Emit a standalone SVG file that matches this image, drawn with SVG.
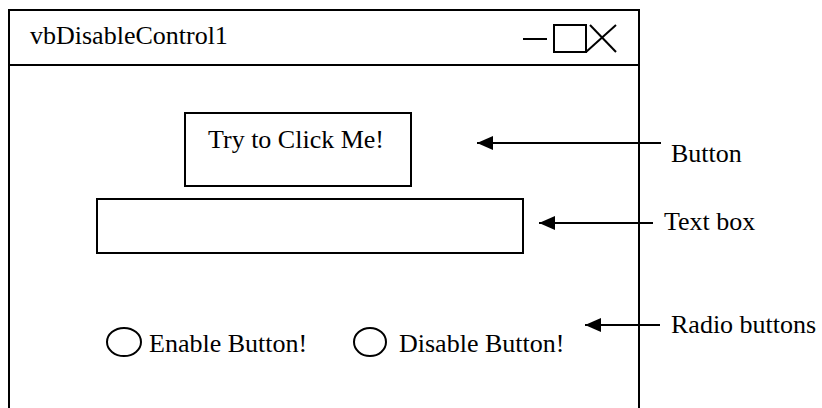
<svg xmlns="http://www.w3.org/2000/svg" width="822" height="408" viewBox="0 0 822 408">
  <style>
    .frame { fill: none; stroke: #000; stroke-width: 2; }
    .box { fill: #fff; stroke: #000; stroke-width: 2; }
    .txt { font-family: "Liberation Serif", "Times New Roman", serif; font-size: 26px; fill: #000; }
    .conn { fill: none; stroke: #000; stroke-width: 2; }
  </style>
  <defs>
    <marker id="arrow" markerUnits="userSpaceOnUse" markerWidth="16" markerHeight="14" refX="16" refY="7" orient="auto">
      <path d="M0,0 L16,7 L0,14 Z" fill="#000"/>
    </marker>
  </defs>
  <rect width="822" height="408" fill="#fff"/>

  <!-- application window frame with title bar -->
  <g id="window">
    <path class="frame" d="M9,410 V10 H639 V410"/>
    <line class="frame" x1="9" y1="65" x2="639" y2="65"/>
    <text class="txt" x="30" y="44">vbDisableControl1</text>
    <g id="window-controls" class="frame">
      <line x1="523" y1="39" x2="547" y2="39"/>
      <rect x="554" y="25" width="32" height="27"/>
      <line x1="586" y1="52" x2="616" y2="25"/>
      <line x1="590" y1="25" x2="616" y2="52"/>
    </g>
  </g>

  <g id="button">
    <rect class="box" x="185" y="113" width="226" height="73"/>
    <text class="txt" x="208" y="148">Try to Click Me!</text>
  </g>

  <g id="textbox">
    <rect class="box" x="97" y="199" width="426" height="54"/>
  </g>

  <g id="radio-enable">
    <ellipse class="frame" cx="124" cy="342" rx="17" ry="14"/>
    <text class="txt" x="149" y="352">Enable Button!</text>
  </g>

  <g id="radio-disable">
    <ellipse class="frame" cx="370" cy="342" rx="16" ry="14"/>
    <text class="txt" x="399" y="352">Disable Button!</text>
  </g>

  <g id="label-button">
    <text class="txt" x="671" y="162">Button</text>
  </g>
  <g id="label-textbox">
    <text class="txt" x="664" y="230">Text box</text>
  </g>
  <g id="label-radio">
    <text class="txt" x="671" y="333">Radio buttons</text>
  </g>

  <!-- pointer arrows from labels to controls -->
  <g id="connectors" class="conn">
    <line x1="661" y1="143" x2="477" y2="143" marker-end="url(#arrow)"/>
    <line x1="653" y1="223" x2="539" y2="223" marker-end="url(#arrow)"/>
    <line x1="660" y1="325" x2="585" y2="325" marker-end="url(#arrow)"/>
  </g>
</svg>
